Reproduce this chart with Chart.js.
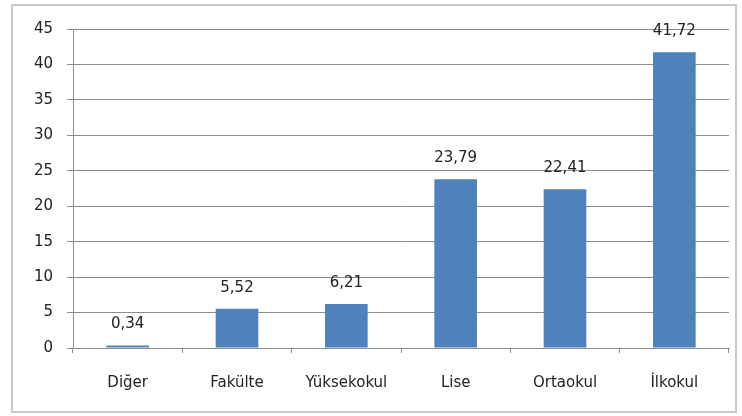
<!DOCTYPE html>
<html>
<head>
<meta charset="utf-8">
<script src="https://cdn.jsdelivr.net/npm/chart.js@4"></script>
<style>
  body { margin: 0; background: #fff; }
  #box {
    position: absolute;
    left: 11px;
    top: 4px;
    width: 726px;
    height: 409px;
    box-sizing: border-box;
    border: 2px solid #c8c8c8;
    background: #fff;
  }
</style>
</head>
<body>
<div id="box"><canvas id="educationChart"></canvas></div>
<script>
  const categories = ["Diğer", "Fakülte", "Yüksekokul", "Lise", "Ortaokul", "İlkokul"];
  const percentages = [0.34, 5.52, 6.21, 23.79, 22.41, 41.72];
  const yTicks = [0, 5, 10, 15, 20, 25, 30, 35, 40, 45];

  const fontFamily = "'DejaVu Sans', 'Noto Sans', sans-serif";
  const textColor = "#222";
  const lineColor = "#8c8c8c";

  // draws the value above each bar, with a comma as decimal mark
  const valueLabels = {
    id: "valueLabels",
    afterDatasetsDraw(chart) {
      const ctx = chart.ctx;
      const meta = chart.getDatasetMeta(0);
      ctx.save();
      ctx.font = "15px " + fontFamily;
      ctx.fillStyle = textColor;
      ctx.textAlign = "center";
      ctx.textBaseline = "middle";
      meta.data.forEach(function (bar, i) {
        const txt = percentages[i].toFixed(2).replace(".", ",");
        ctx.fillText(txt, bar.x, bar.y - 21);
      });
      ctx.restore();
    },
  };

  const ctx = document.getElementById("educationChart").getContext("2d");

  const chart = new Chart(ctx, {
    type: "bar",
    data: {
      labels: categories,
      datasets: [
        {
          data: percentages,
          backgroundColor: "#4f81bd",
          borderWidth: 0,
          categoryPercentage: 1,
          barPercentage: 0.39,
        },
      ],
    },
    options: {
      responsive: true,
      maintainAspectRatio: false,
      animation: false,
      layout: {
        padding: { top: 20, right: 6, left: 0, bottom: 0 },
      },
      plugins: {
        legend: { display: false },
        tooltip: { enabled: false },
      },
      scales: {
        x: {
          offset: true,
          grid: {
            offset: true,
            drawOnChartArea: false,
            drawTicks: true,
            tickLength: 5,
            color: lineColor,
          },
          border: { display: true, color: lineColor },
          ticks: {
            color: textColor,
            font: { family: fontFamily, size: 15 },
            padding: 21,
            maxRotation: 0,
          },
          afterFit: function (scale) {
            scale.height = 63;
          },
        },
        y: {
          min: 0,
          max: 45,
          afterBuildTicks: function (scale) {
            scale.ticks = yTicks.map(function (v) {
              return { value: v };
            });
          },
          grid: {
            color: lineColor,
            tickLength: 6,
          },
          border: { display: true, color: lineColor },
          ticks: {
            color: textColor,
            font: { family: fontFamily, size: 15 },
            padding: 14,
          },
          afterFit: function (scale) {
            scale.width = 60;
          },
        },
      },
    },
    plugins: [valueLabels],
  });
</script>
</body>
</html>
